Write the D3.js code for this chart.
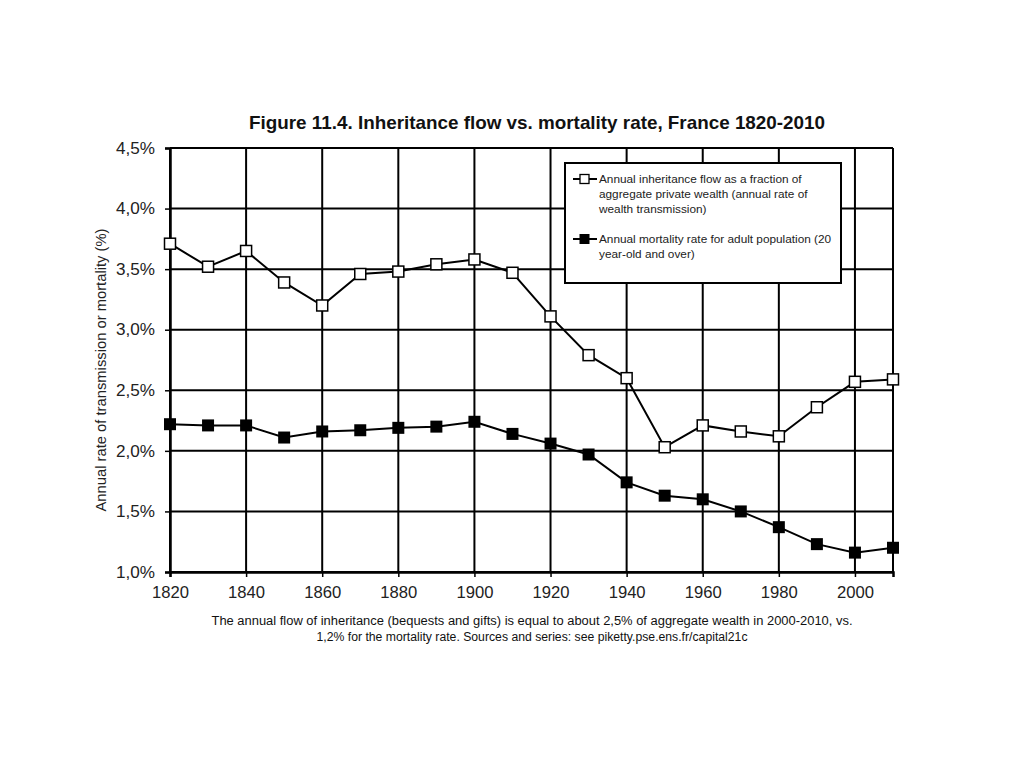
<!DOCTYPE html>
<html><head><meta charset="utf-8">
<script src="https://cdn.jsdelivr.net/npm/d3@7"></script>
<style>body{margin:0;background:#fff;} text{font-family:"Liberation Sans",Arial,sans-serif;}</style>
</head><body>
<svg id="c" width="1024" height="768"></svg>
<script>
const years = [1820,1830,1840,1850,1860,1870,1880,1890,1900,1910,1920,1930,1940,1950,1960,1970,1980,1990,2000,2010];
const inheritance = [3.71,3.52,3.65,3.39,3.20,3.46,3.48,3.54,3.58,3.47,3.11,2.79,2.60,2.03,2.21,2.16,2.12,2.36,2.57,2.59];
const mortality = [2.22,2.21,2.21,2.11,2.16,2.17,2.19,2.20,2.24,2.14,2.06,1.97,1.74,1.63,1.60,1.50,1.37,1.23,1.16,1.20];
const xTicks = [1820,1840,1860,1880,1900,1920,1940,1960,1980,2000];
const yTicks = [1.0,1.5,2.0,2.5,3.0,3.5,4.0,4.5];
const seriesNames = ["Annual inheritance flow as a fraction of|aggregate private wealth (annual rate of|wealth transmission)","Annual mortality rate for adult population (20|year-old and over)"];
const title = "Figure 11.4. Inheritance flow vs. mortality rate, France 1820-2010";
const yTitle = "Annual rate of transmission or mortality (%)";
const caption = ["The annual flow of inheritance (bequests and gifts) is equal to about 2,5% of aggregate wealth in 2000-2010, vs.","1,2% for the mortality rate. Sources and series: see piketty.pse.ens.fr/capital21c"];

const svg = d3.select("#c");
const L=170,R=893,T=148,B=572;
const x = d3.scaleLinear().domain([1820,2010]).range([L,R]);
const y = d3.scaleLinear().domain([1.0,4.5]).range([B,T]);
const fmt = d => d.toFixed(1).replace(".",",")+"%";

// grid
const g = svg.append("g");
g.selectAll(".h").data(yTicks).join("line").attr("x1",L).attr("x2",R)
 .attr("y1",d=>y(d)).attr("y2",d=>y(d)).attr("stroke","#000").attr("stroke-width",2);
g.selectAll(".v").data(xTicks.concat([2010])).join("line").attr("y1",T).attr("y2",B)
 .attr("x1",d=>x(d)).attr("x2",d=>x(d)).attr("stroke","#000").attr("stroke-width",2);

// axes
const xa = svg.append("g").attr("transform",`translate(0,${B})`)
 .call(d3.axisBottom(x).tickValues(xTicks).tickFormat(d3.format("d")).tickSize(5).tickPadding(9));
xa.select(".domain").attr("stroke-width",2.5);
xa.selectAll(".tick line").attr("stroke-width",1.5);
xa.selectAll("text").attr("font-size",16.5).attr("fill","#222").attr("textLength",37).attr("lengthAdjust","spacingAndGlyphs");
const ya = svg.append("g").attr("transform",`translate(${L},0)`)
 .call(d3.axisLeft(y).tickValues(yTicks).tickFormat(fmt).tickSize(5).tickPadding(10));
ya.select(".domain").attr("stroke-width",2.5);
ya.selectAll(".tick line").attr("stroke-width",1.5);
ya.selectAll("text").attr("font-size",16.5).attr("fill","#222").attr("textLength",39).attr("lengthAdjust","spacingAndGlyphs");

// lines
const line = d3.line().x((d,i)=>x(years[i])).y(d=>y(d));
svg.append("path").datum(inheritance).attr("d",line).attr("fill","none").attr("stroke","#000").attr("stroke-width",2);
svg.append("path").datum(mortality).attr("d",line).attr("fill","none").attr("stroke","#000").attr("stroke-width",2);
const s1=11, s2=12;
svg.selectAll(".m1").data(inheritance).join("rect").attr("x",(d,i)=>x(years[i])-s1/2).attr("y",d=>y(d)-s1/2)
 .attr("width",s1).attr("height",s1).attr("fill","#fff").attr("stroke","#000").attr("stroke-width",1.5);
svg.selectAll(".m2").data(mortality).join("rect").attr("x",(d,i)=>x(years[i])-s2/2).attr("y",d=>y(d)-s2/2)
 .attr("width",s2).attr("height",s2).attr("fill","#000");

// legend
const lg = svg.append("g");
lg.append("rect").attr("x",565).attr("y",163).attr("width",276).attr("height",120).attr("fill","#fff").attr("stroke","#000").attr("stroke-width",2);
const lx=573, ly=[179,239];
seriesNames.forEach((nm,k)=>{
  lg.append("line").attr("x1",lx).attr("x2",lx+24).attr("y1",ly[k]).attr("y2",ly[k]).attr("stroke","#000").attr("stroke-width",2);
  if(k===0) lg.append("rect").attr("x",lx+7).attr("y",ly[k]-4.5).attr("width",9).attr("height",9).attr("fill","#fff").attr("stroke","#000").attr("stroke-width",1.3);
  else lg.append("rect").attr("x",lx+6.5).attr("y",ly[k]-5).attr("width",10).attr("height",10).attr("fill","#000");
  nm.split("|").forEach((t,j)=>{
    lg.append("text").attr("x",lx+26).attr("y",ly[k]+4+j*15).attr("font-size",11.8).attr("fill","#222").text(t);
  });
});

// texts
svg.append("text").attr("x",537).attr("y",129).attr("text-anchor","middle").attr("font-size",19).attr("font-weight","bold").attr("fill","#111")
 .attr("textLength",576).attr("lengthAdjust","spacingAndGlyphs").text(title);
svg.append("text").attr("transform","translate(106,370) rotate(-90)").attr("text-anchor","middle").attr("font-size",14).attr("fill","#222")
 .attr("textLength",283).attr("lengthAdjust","spacingAndGlyphs").text(yTitle);
svg.append("text").attr("x",532).attr("y",625).attr("text-anchor","middle").attr("font-size",12.5).attr("fill","#111")
 .attr("textLength",641).attr("lengthAdjust","spacingAndGlyphs").text(caption[0]);
svg.append("text").attr("x",532).attr("y",641).attr("text-anchor","middle").attr("font-size",12.5).attr("fill","#111")
 .attr("textLength",431).attr("lengthAdjust","spacingAndGlyphs").text(caption[1]);
</script>
</body></html>
